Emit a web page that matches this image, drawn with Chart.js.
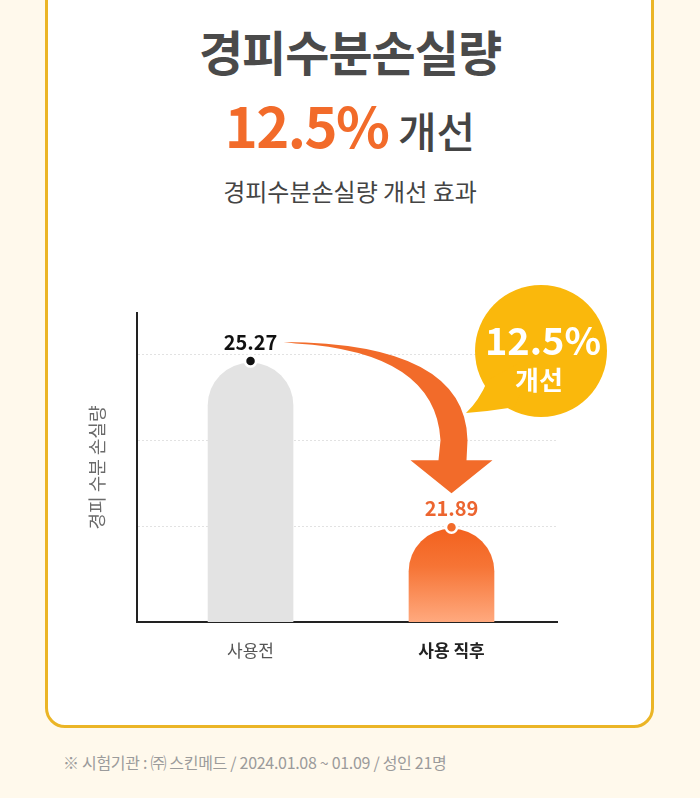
<!DOCTYPE html>
<html>
<head>
<meta charset="utf-8">
<script src="https://cdn.jsdelivr.net/npm/chart.js@4.4.1/dist/chart.umd.min.js"></script>
<style>
  html, body { margin:0; padding:0; width:700px; height:798px; overflow:hidden; background:#FFF9EC;
    font-family:"Noto Sans CJK KR","Noto Sans",sans-serif; }
  #card { position:absolute; left:45px; top:-30px; width:603px; height:752px; border:3.5px solid #EBB526;
    border-radius:20px; background:#ffffff; }
  .hd { position:absolute; left:0; width:700px; text-align:center; white-space:nowrap; }
  #t1 { top:20px; font-size:48px; line-height:60px; font-weight:700; color:#4a4a4a; letter-spacing:-1px; }
  #t2 { top:89px; font-size:42px; line-height:70px; font-weight:500; color:#444444; }
  #t2 .o { font-size:56px; font-weight:700; color:#F26B2A; letter-spacing:-1.5px; }
  #t3 { top:176px; font-size:24px; line-height:30px; font-weight:400; color:#444444; }
  #foot { position:absolute; left:63px; top:752px; font-size:16px; line-height:20px; color:#9b9b9b;
    letter-spacing:-0.3px; white-space:nowrap; }
  #wrap { position:absolute; left:0; top:260px; width:700px; height:420px; }
</style>
</head>
<body>
<div id="card"></div>
<div id="t1" class="hd">경피수분손실량</div>
<div id="t2" class="hd"><span class="o">12.5%</span> 개선</div>
<div id="t3" class="hd">경피수분손실량 개선 효과</div>
<div id="foot">※ 시험기관 : ㈜ 스킨메드 / 2024.01.08 ~ 01.09 / 성인 21명</div>
<div id="wrap"><canvas id="c" width="700" height="420"></canvas></div>
<script>
// ---- data ----
const categories = ['사용전', '사용 직후'];
const values = [25.27, 21.89];
const valueLabels = ['25.27', '21.89'];
const yTitle = '경피 수분 손실량';
const gridValues = [21.95, 23.7, 25.45];
const yRange = [20, 26.29];
const xRange = [-0.565, 1.525];
const bubbleLines = ['12.5%', '개선'];

const FONT = '"Noto Sans CJK KR","Noto Sans",sans-serif';
const GRAY = '#E3E3E3';
const ORANGE = '#F26B2A';

function barColor(c) {
  if (c.dataIndex === 0) return GRAY;
  const chart = c.chart;
  const ys = chart.scales && chart.scales.y;
  if (!chart.chartArea || !ys) return ORANGE;
  const top = ys.getPixelForValue(values[1]);
  const bot = ys.getPixelForValue(yRange[0]);
  const g = chart.ctx.createLinearGradient(0, top, 0, bot);
  g.addColorStop(0, '#F3621F');
  g.addColorStop(0.4, '#F67435');
  g.addColorStop(1, '#FFA97E');
  return g;
}

const overlay = {
  id: 'overlay',
  afterDatasetsDraw(chart) {
    const { ctx, scales: { x, y }, chartArea } = chart;
    const px = values.map((v, i) => x.getPixelForValue(i));
    const py = values.map(v => y.getPixelForValue(v));

    // curved arrow from first value to second
    const sx = px[0] + 33, sy = py[0] - 21;
    const tx = px[1], ty = py[1] - 36;
    ctx.save();
    ctx.fillStyle = ORANGE;
    ctx.beginPath();
    ctx.moveTo(sx, sy);
    ctx.quadraticCurveTo(tx + 14, sy + 1, tx + 16, ty - 53);
    ctx.lineTo(tx + 15, ty - 33);
    ctx.lineTo(tx + 41, ty - 33);
    ctx.lineTo(tx, ty);
    ctx.lineTo(tx - 41, ty - 33);
    ctx.lineTo(tx - 13, ty - 33);
    ctx.lineTo(tx - 11, ty - 53);
    ctx.quadraticCurveTo(tx - 16, sy + 10, sx + 12, sy + 1.5);
    ctx.closePath();
    ctx.fill();
    ctx.restore();

    // speech bubble
    const cx = chartArea.right - 16, cy = chartArea.top + 38, r = 66;
    ctx.save();
    ctx.fillStyle = '#FAB80C';
    ctx.beginPath();
    ctx.arc(cx, cy, r, 0, Math.PI * 2);
    ctx.fill();
    const a1 = Math.PI * 150 / 180, a2 = Math.PI * 118 / 180;
    const p1 = [cx + r * Math.cos(a1), cy + r * Math.sin(a1)];
    const p2 = [cx + r * Math.cos(a2), cy + r * Math.sin(a2)];
    const tip = [cx - 75, cy + 62];
    ctx.beginPath();
    ctx.moveTo(p1[0] + 4, p1[1] - 4);
    ctx.quadraticCurveTo(cx - 62, cy + 50, tip[0], tip[1]);
    ctx.quadraticCurveTo(cx - 50, cy + 60, p2[0] + 4, p2[1] - 2);
    ctx.lineTo(cx, cy);
    ctx.closePath();
    ctx.fill();
    ctx.fillStyle = '#ffffff';
    ctx.textAlign = 'center';
    ctx.textBaseline = 'middle';
    ctx.font = 'bold 38px ' + FONT;
    ctx.fillText(bubbleLines[0], cx + 2, cy - 10);
    ctx.font = 'bold 26px ' + FONT;
    ctx.fillText(bubbleLines[1], cx - 2, cy + 29);
    ctx.restore();

    // dots and value labels
    const dotFill = ['#111111', ORANGE];
    const labelColor = ['#111111', '#EC6530'];
    values.forEach((v, i) => {
      ctx.save();
      ctx.beginPath();
      ctx.arc(px[i], py[i] - 2, 5.5, 0, Math.PI * 2);
      ctx.fillStyle = dotFill[i];
      ctx.fill();
      ctx.lineWidth = 2.5;
      ctx.strokeStyle = '#ffffff';
      ctx.stroke();
      ctx.fillStyle = labelColor[i];
      ctx.textAlign = 'center';
      ctx.textBaseline = 'middle';
      ctx.font = 'bold 20px ' + FONT;
      ctx.fillText(valueLabels[i], px[i], py[i] - 21);
      ctx.restore();
    });
  }
};

new Chart(document.getElementById('c'), {
  type: 'bar',
  data: {
    datasets: [{
      data: categories.map((c, i) => ({ x: i, y: values[i] })),
      backgroundColor: barColor,
      barThickness: 85,
      borderRadius: { topLeft: 42.5, topRight: 42.5, bottomLeft: 0, bottomRight: 0 },
      borderSkipped: false
    }]
  },
  options: {
    responsive: false,
    animation: false,
    devicePixelRatio: 1,
    layout: { padding: { left: 0, right: 143, top: 53, bottom: 0 } },
    plugins: { legend: { display: false }, tooltip: { enabled: false } },
    scales: {
      x: {
        type: 'linear',
        offset: false,
        bounds: 'data',
        min: xRange[0], max: xRange[1],
        grid: { display: false, drawTicks: false, offset: false },
        border: { color: '#222222', width: 2 },
        afterBuildTicks: s => { s.ticks = categories.map((c, i) => ({ value: i })); },
        afterFit: s => { s.height = 58; },
        ticks: {
          padding: 18, autoSkip: false, maxRotation: 0,
          callback: v => categories[v],
          color: c => c.index === 1 ? '#222222' : '#555555',
          font: c => ({ family: FONT, size: 17, weight: c.index === 1 ? 'bold' : 'normal' })
        }
      },
      y: {
        min: yRange[0], max: yRange[1],
        afterBuildTicks: s => { s.ticks = gridValues.map(v => ({ value: v })); },
        afterFit: s => { s.width = 137; },
        ticks: { display: false },
        grid: { color: '#E2E2E2', drawTicks: false, lineWidth: 1 },
        border: { color: '#222222', width: 2, dash: [2, 2] },
        title: { display: true, text: yTitle, color: '#6a6a6a',
          font: { family: FONT, size: 18, weight: 'normal' }, padding: { top: 86, bottom: 0 } }
      }
    }
  },
  plugins: [overlay]
});
</script>
</body>
</html>
